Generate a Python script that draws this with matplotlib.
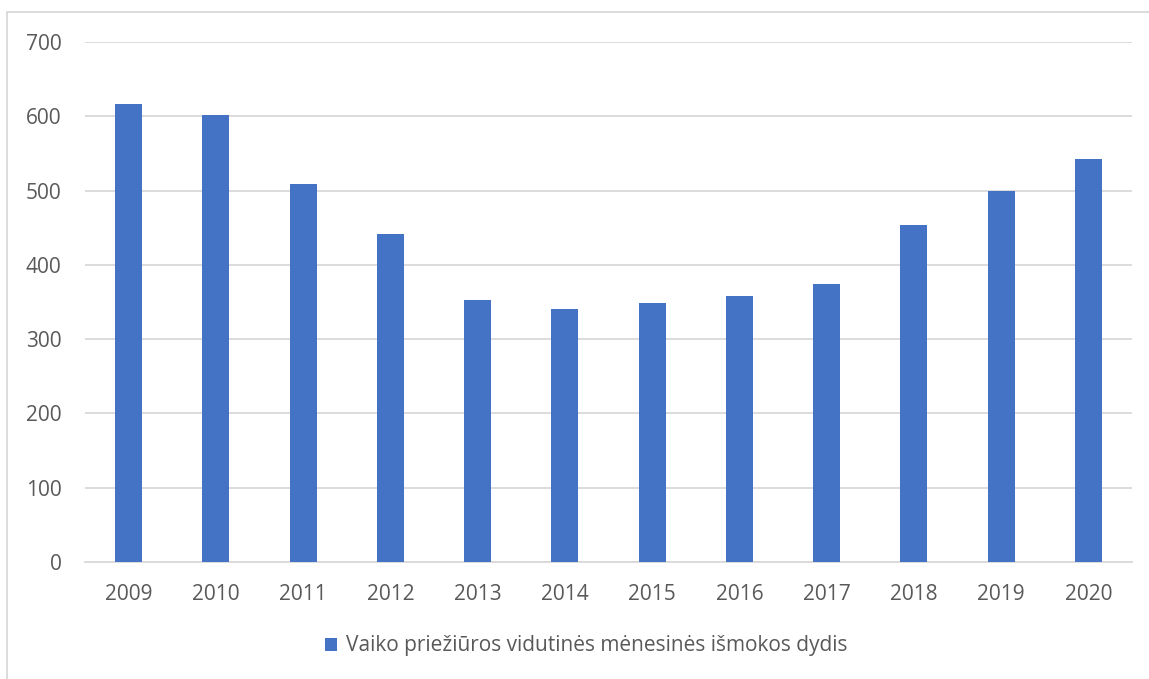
import matplotlib
matplotlib.use("Agg")
import matplotlib.pyplot as plt
from matplotlib.patches import Rectangle

years = ["2009", "2010", "2011", "2012", "2013", "2014", "2015", "2016", "2017", "2018", "2019", "2020"]
values = [616, 602, 509, 441, 353, 340, 349, 358, 374, 454, 499, 542]
series_name = "Vaiko priežiūros vidutinės mėnesinės išmokos dydis"
y_ticks = [0, 100, 200, 300, 400, 500, 600, 700]

plt.rcParams["font.family"] = ["Open Sans", "DejaVu Sans"]
text_color = "#595959"
grid_color = "#d9d9d9"
bar_color = "#4472c4"

fig = plt.figure(figsize=(11.49, 6.79), dpi=100)
ax = fig.add_axes([85 / 1149, 1 - 562 / 679, (1132 - 85) / 1149, (562 - 42) / 679])

x = range(len(years))
ax.bar(x, values, width=0.31, color=bar_color, label=series_name, zorder=3)

ax.set_xlim(-0.5, len(years) - 0.5)
ax.set_ylim(0, 700)
ax.set_yticks(y_ticks)
ax.set_xticks(list(x))
ax.set_xticklabels(years)
ax.tick_params(axis="both", length=0, labelsize=15, colors=text_color)
ax.tick_params(axis="y", pad=17)
ax.tick_params(axis="x", pad=16)
ax.grid(axis="y", color=grid_color, linewidth=1.3, zorder=0)
for s in ["top", "right", "left"]:
    ax.spines[s].set_visible(False)
ax.spines["bottom"].set_color(grid_color)
ax.spines["bottom"].set_linewidth(1.3)

leg = fig.legend(loc="center", bbox_to_anchor=(586 / 1149, 1 - 646 / 679), frameon=False,
                 fontsize=15, handlelength=0.6, handleheight=0.6, handletextpad=0.4)
for t in leg.get_texts():
    t.set_color(text_color)

fig.patches.append(Rectangle((7 / 1149, -0.01), 1.1, 1 - 12 / 679 + 0.01, transform=fig.transFigure,
                             fill=False, edgecolor=grid_color, linewidth=1.3))

fig.savefig("out.png", dpi=100)
